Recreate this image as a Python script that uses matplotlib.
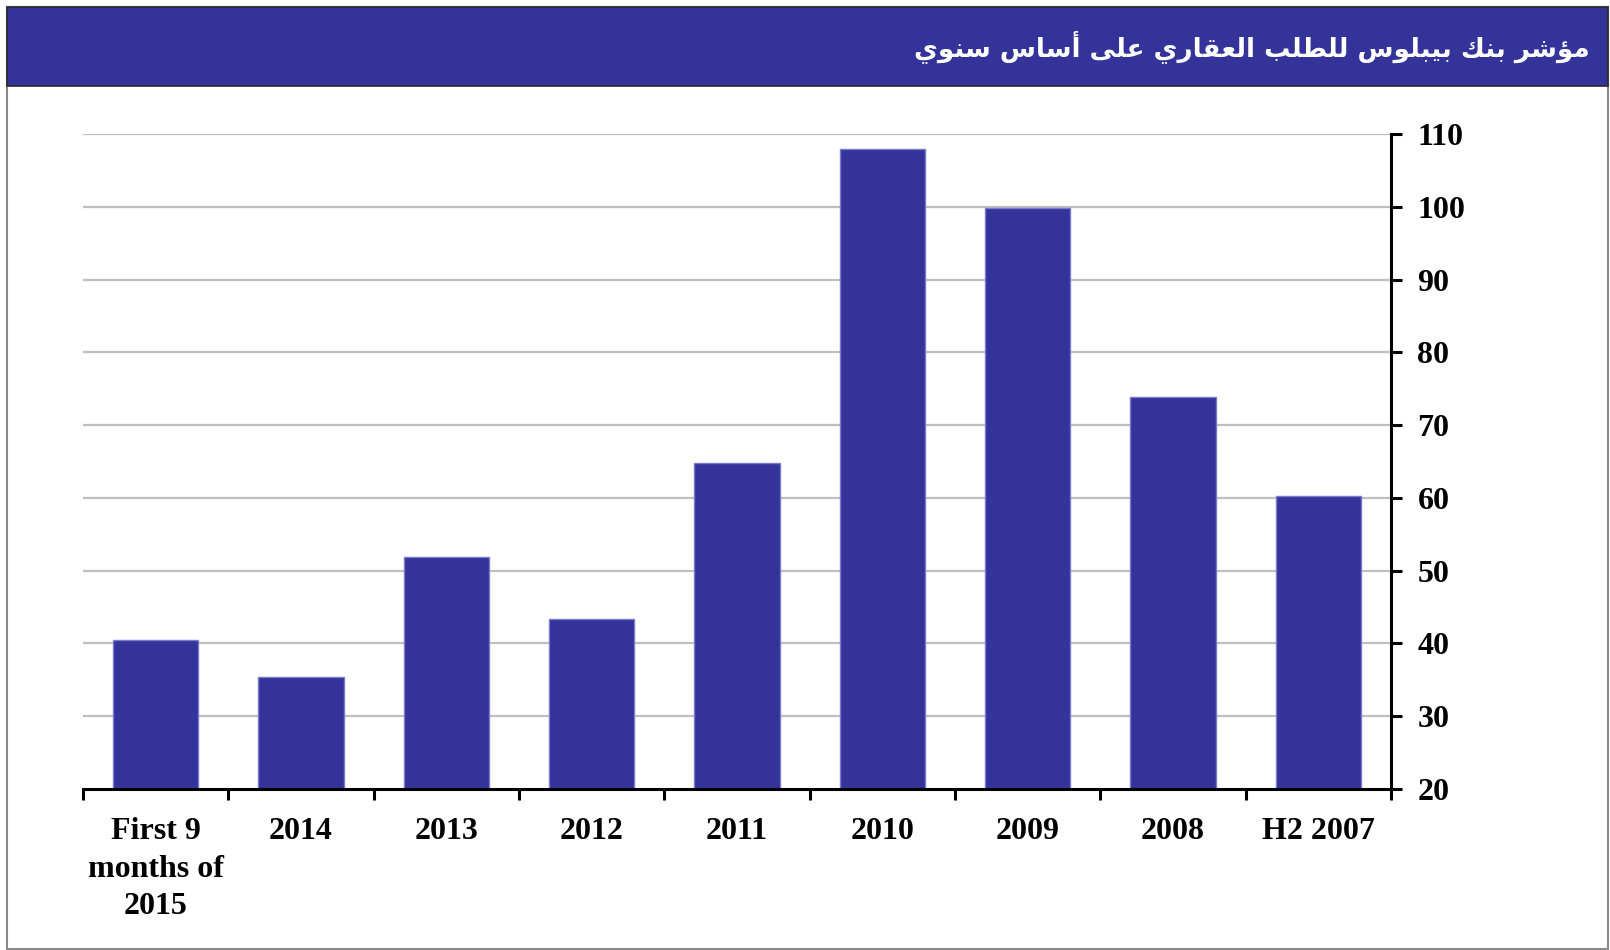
import matplotlib
matplotlib.use("Agg")
import matplotlib.pyplot as plt
from matplotlib.patches import Rectangle

# ---------------- data ----------------
categories = ["First 9\nmonths of\n2015", "2014", "2013", "2012", "2011",
              "2010", "2009", "2008", "H2 2007"]
values = [40.5, 35.4, 51.9, 43.4, 64.8, 108.0, 99.8, 73.9, 60.2]
yticks = [20, 30, 40, 50, 60, 70, 80, 90, 100, 110]
title = "مؤشر بنك بيبلوس للطلب العقاري على أساس سنوي"

# ---------------- minimal Arabic shaping ----------------
# char -> (isolated, final, initial, medial); right-joining letters have only 2 forms
FORMS = {
    "\u0627": ("\uFE8D", "\uFE8E"),
    "\u0623": ("\uFE83", "\uFE84"),
    "\u0624": ("\uFE85", "\uFE86"),
    "\u0631": ("\uFEAD", "\uFEAE"),
    "\u0648": ("\uFEED", "\uFEEE"),
    "\u0649": ("\uFEEF", "\uFEF0"),
    "\u0628": ("\uFE8F", "\uFE90", "\uFE91", "\uFE92"),
    "\u0633": ("\uFEB1", "\uFEB2", "\uFEB3", "\uFEB4"),
    "\u0634": ("\uFEB5", "\uFEB6", "\uFEB7", "\uFEB8"),
    "\u0637": ("\uFEC1", "\uFEC2", "\uFEC3", "\uFEC4"),
    "\u0639": ("\uFEC9", "\uFECA", "\uFECB", "\uFECC"),
    "\u0642": ("\uFED5", "\uFED6", "\uFED7", "\uFED8"),
    "\u0643": ("\uFED9", "\uFEDA", "\uFEDB", "\uFEDC"),
    "\u0644": ("\uFEDD", "\uFEDE", "\uFEDF", "\uFEE0"),
    "\u0645": ("\uFEE1", "\uFEE2", "\uFEE3", "\uFEE4"),
    "\u0646": ("\uFEE5", "\uFEE6", "\uFEE7", "\uFEE8"),
    "\u064A": ("\uFEF1", "\uFEF2", "\uFEF3", "\uFEF4"),
}


def shape_arabic(s):
    out = []
    n = len(s)
    for i, c in enumerate(s):
        f = FORMS.get(c)
        if f is None:
            out.append(c)
            continue
        prev = s[i - 1] if i > 0 else None
        nxt = s[i + 1] if i < n - 1 else None
        jp = prev is not None and prev in FORMS and len(FORMS[prev]) == 4
        jn = len(f) == 4 and nxt is not None and nxt in FORMS
        if jp and jn:
            out.append(f[3])
        elif jp:
            out.append(f[1])
        elif jn:
            out.append(f[2])
        else:
            out.append(f[0])
    return "".join(reversed(out))


# ---------------- figure ----------------
W, H = 1610, 950
fig = plt.figure(figsize=(W / 100, H / 100), dpi=100)
fig.patch.set_facecolor("white")

# outer frame
fig.patches.append(Rectangle((7 / W, 1 / H), 1601 / W, 942 / H, transform=fig.transFigure,
                             facecolor="none", edgecolor="#8a8a8a", lw=1.5, zorder=0))
# header band
fig.patches.append(Rectangle((7 / W, 1 - 86 / H), 1601 / W, 79 / H, transform=fig.transFigure,
                             facecolor="#333399", edgecolor="#2a2a2a", lw=1.2, zorder=1))
fig.text(1590 / W, 1 - 47 / H, shape_arabic(title), ha="right", va="center",
         color="white", fontsize=18.8, fontweight="bold",
         family=["DejaVu Sans"], zorder=2)

ax = fig.add_axes([83 / W, 1 - 789 / H, (1391 - 83) / W, (789 - 134) / H])
x = list(range(len(categories)))
ax.bar(x, values, width=0.585, color="#333399", edgecolor="#7a7acc", linewidth=1.0, zorder=3)

ax.set_xlim(-0.5, len(categories) - 0.5)
ax.set_ylim(20, 110)

ax.yaxis.tick_right()
ax.set_yticks(yticks)
ax.set_yticklabels([str(v) for v in yticks])
for v in yticks[1:]:
    ax.axhline(v, color="#bfbfbf", lw=1.6, zorder=1)

ax.set_xticks([i - 0.5 for i in range(len(categories) + 1)], minor=False)
ax.set_xticklabels([""] * (len(categories) + 1))
ax.set_xticks(x, minor=True)
ax.set_xticklabels(categories, minor=True)

for s in ["top", "left"]:
    ax.spines[s].set_visible(False)
ax.spines["right"].set_linewidth(2.2)
ax.spines["bottom"].set_linewidth(2.2)
ax.spines["right"].set_zorder(5)
ax.spines["bottom"].set_zorder(5)

ax.tick_params(axis="y", which="major", direction="out", length=8, width=2.2, pad=11,
               right=True, left=False, labelright=True, labelleft=False)
ax.tick_params(axis="x", which="major", direction="out", length=8, width=2.2)
ax.tick_params(axis="x", which="minor", length=0, pad=20)
for t in ax.get_yticklabels():
    t.set_fontfamily("Liberation Serif")
    t.set_fontweight("bold")
    t.set_fontsize(23)
for t in ax.get_xticklabels(minor=True):
    t.set_fontfamily("Liberation Serif")
    t.set_fontweight("bold")
    t.set_fontsize(23)
    t.set_linespacing(1.4)

fig.savefig("out.png", dpi=100, facecolor="white")
